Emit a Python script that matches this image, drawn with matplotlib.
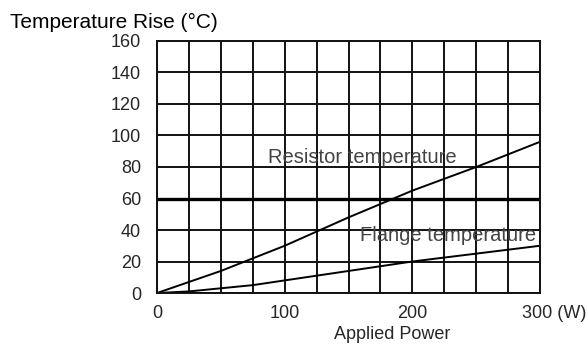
import matplotlib
matplotlib.use('Agg')
import matplotlib.pyplot as plt
import matplotlib.transforms as mtransforms

plt.rcParams['font.family'] = ['Liberation Sans', 'DejaVu Sans']

# data
power = [0, 50, 100, 150, 200, 250, 300]
resistor_temp = [0, 14, 30, 48, 65, 80, 96]
flange_power = [0, 25, 50, 75, 100, 150, 200, 250, 300]
flange_temp = [0, 1, 3, 5, 8, 14, 20, 25, 30]
limit_temp = 60
x_ticks = [0, 100, 200, 300]
x_labels = ['0', '100', '200', '300 (W)']
y_ticks = [0, 20, 40, 60, 80, 100, 120, 140, 160]

fig = plt.figure(figsize=(5.87, 3.45), dpi=100)
ax = fig.add_subplot(111)
fig.subplots_adjust(left=0.2675, right=0.92, bottom=0.1507, top=0.8812)

ax.set_xlim(0, 300)
ax.set_ylim(0, 160)

# grid every 25 W and 20 degC
ax.set_xticks(range(0, 301, 25), minor=True)
ax.set_xticks(x_ticks)
ax.set_xticklabels(x_labels)
ax.set_yticks(y_ticks)
ax.grid(True, which='both', color='#111111', linewidth=1.4)
ax.set_axisbelow(True)
for s in ax.spines.values():
    s.set_linewidth(1.4)
    s.set_color('#111111')
ax.tick_params(which='both', length=0)
ax.tick_params(axis='x', pad=8.5, labelsize=13, labelcolor='#262626')
ax.tick_params(axis='y', pad=11.5, labelsize=13, labelcolor='#262626')

lbl = ax.get_xticklabels()[-1]
lbl.set_ha('left')
lbl.set_transform(lbl.get_transform() + mtransforms.ScaledTranslation(-0.18, 0, fig.dpi_scale_trans))

ax.axhline(limit_temp, color='black', linewidth=2.4)
ax.plot(power, resistor_temp, color='black', linewidth=1.4)
ax.plot(flange_power, flange_temp, color='black', linewidth=1.4)

ax.text(87, 82.5, 'Resistor temperature', fontsize=14.5, color='#444444', va='baseline')
ax.text(159, 33, 'Flange temperature', fontsize=14.5, color='#444444', va='baseline')

fig.text(10 / 587, 1 - 28 / 345, 'Temperature Rise (°C)', fontsize=15, color='black', va='baseline')
fig.text(392 / 587, 1 - 339 / 345, 'Applied Power', fontsize=13, color='#262626', ha='center', va='baseline')

fig.savefig('out.png', dpi=100)
